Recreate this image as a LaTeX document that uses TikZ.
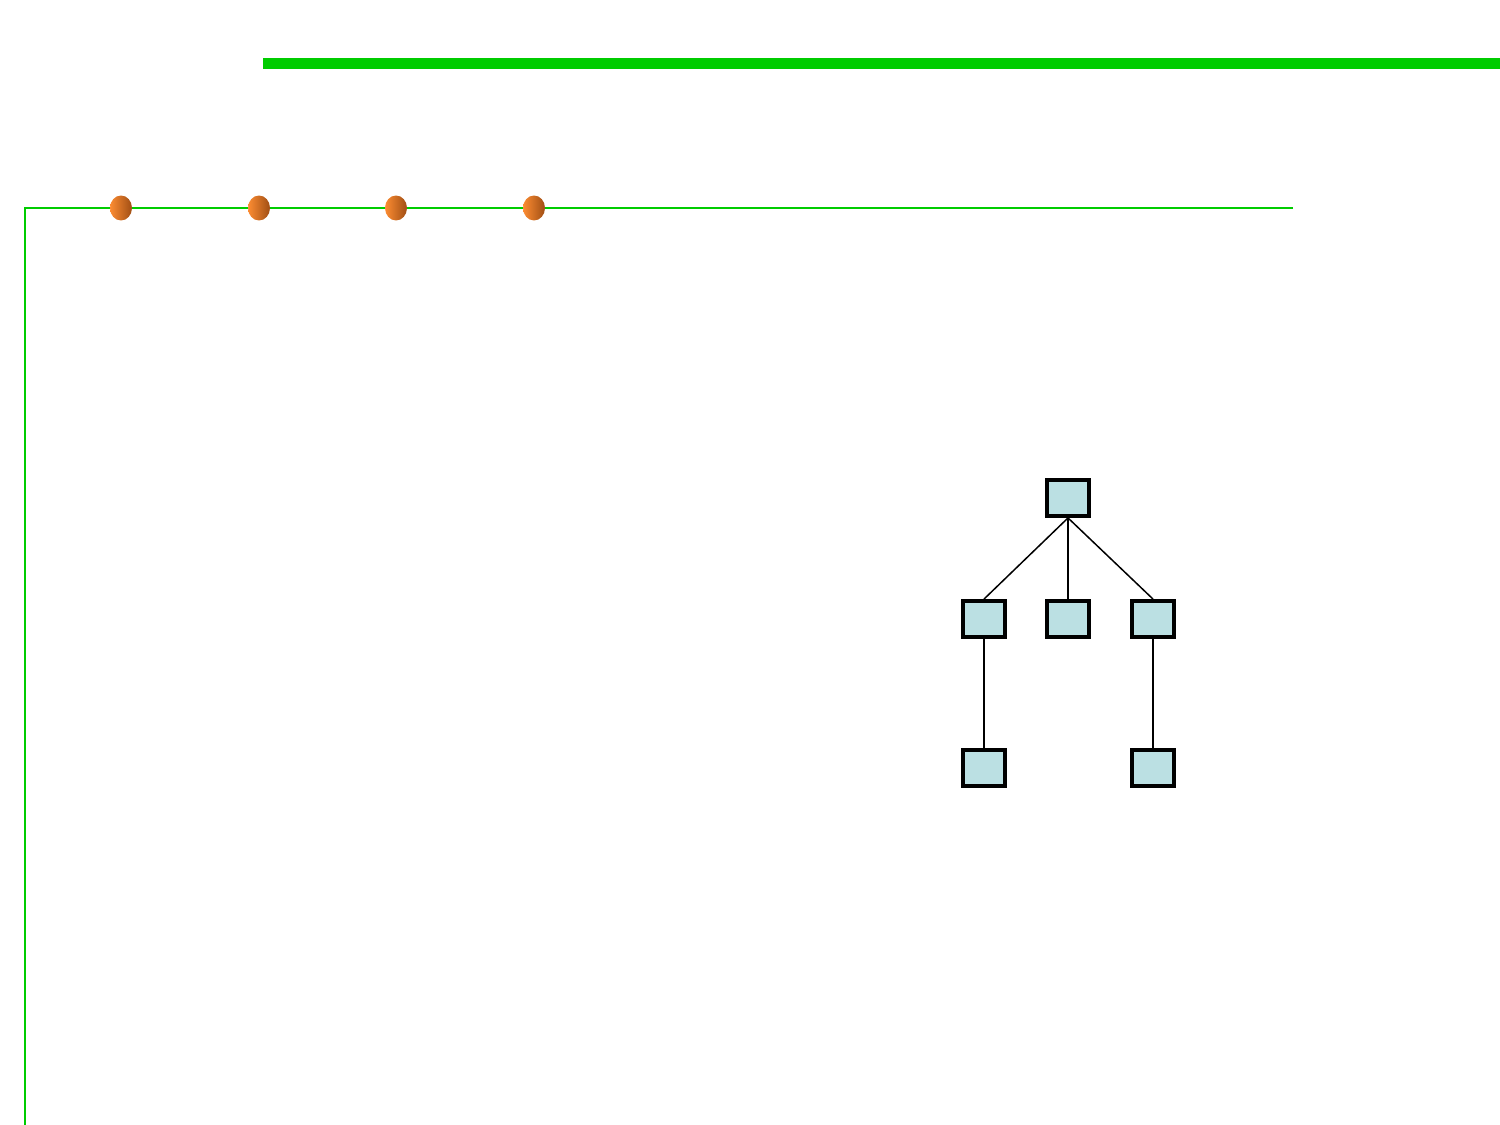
\documentclass[tikz,border=0pt]{standalone}
\usetikzlibrary{shapes.geometric}

\definecolor{barGreen}{RGB}{0,204,0}
\definecolor{boxFill}{RGB}{187,224,227}
\definecolor{ballLight}{RGB}{252,140,50}
\definecolor{ballDark}{RGB}{160,78,20}

\tikzset{
  treebox/.style = {draw, line width=2.2pt, fill=boxFill, minimum width=0.84cm, minimum height=0.72cm, inner sep=0pt},
  treeedge/.style = {line width=0.85pt},
  ball/.style = {ellipse, minimum width=0.44cm, minimum height=0.5cm, inner sep=0pt, left color=ballLight, right color=ballDark}
}

\begin{document}
\begin{tikzpicture}[x=0.02cm, y=-0.02cm]

\useasboundingbox (0,0) rectangle (1500,1125);

\draw[barGreen, line width=6.4pt] (263,63.5) -- (1500,63.5);

\draw[barGreen, line width=1.1pt] (1293,208) -- (25,208) -- (25,1125);

\foreach \x/\name in {121/b1, 259/b2, 396/b3, 534/b4}
  \node[ball] (\name) at (\x,208) {};

\node[treebox] (root) at (1068,498) {};

\node[treebox] (left) at (984,619) {};
\node[treebox] (mid) at (1068,619) {};
\node[treebox] (right) at (1153,619) {};

\node[treebox] (leftleaf) at (984,768) {};
\node[treebox] (rightleaf) at (1153,768) {};

\draw[treeedge] (root.south) -- (left.north);
\draw[treeedge] (root.south) -- (mid.north);
\draw[treeedge] (root.south) -- (right.north);

\draw[treeedge] (left.south) -- (leftleaf.north);
\draw[treeedge] (right.south) -- (rightleaf.north);

\end{tikzpicture}
\end{document}
